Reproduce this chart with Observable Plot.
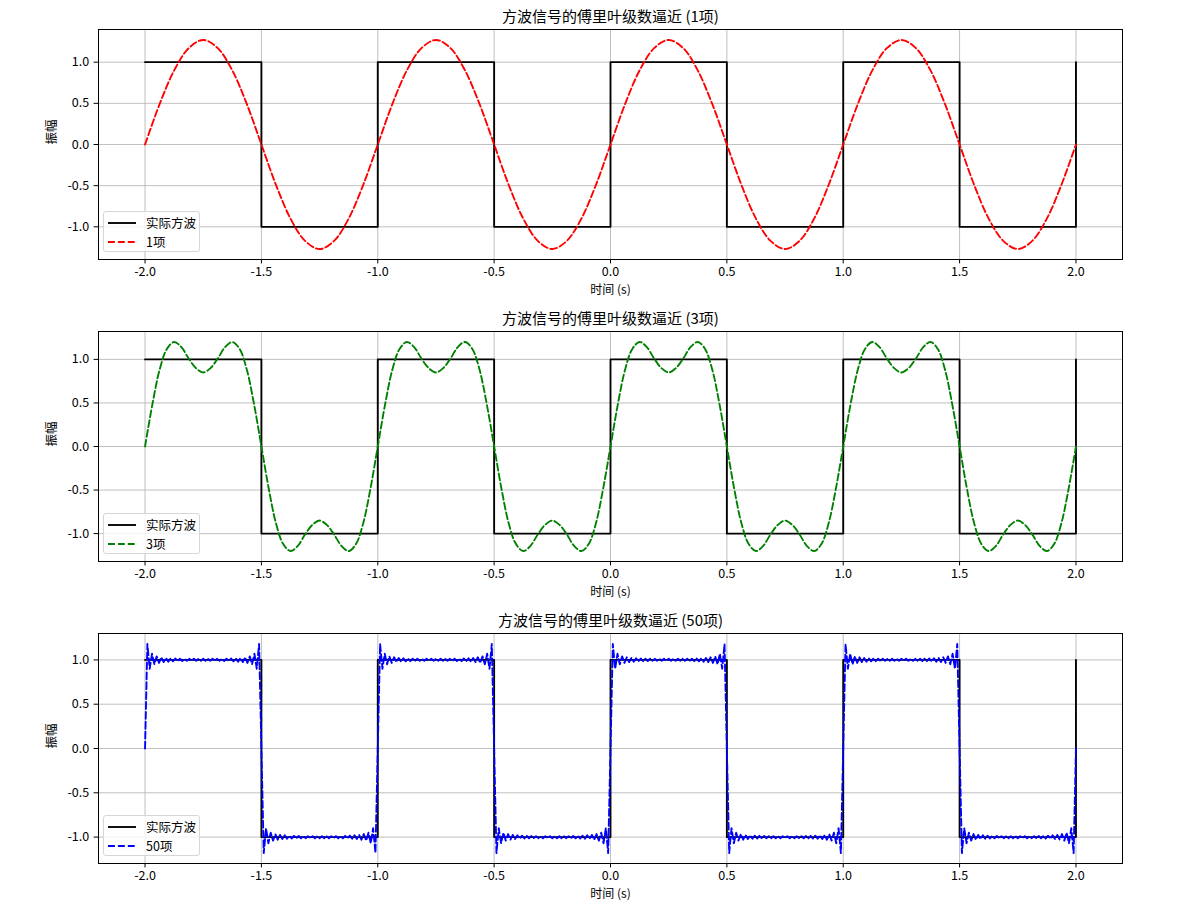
<!DOCTYPE html>
<html>
<head>
<meta charset="utf-8">
<script src="https://cdn.jsdelivr.net/npm/d3@7"></script>
<script src="https://cdn.jsdelivr.net/npm/@observablehq/plot@0.6"></script>
<style>
  body { margin: 0; background: #fff; }
  #wrap { position: relative; width: 1193px; height: 910px; background: #fff; font-family: "Noto Sans CJK SC", sans-serif; }
  .panel { position: absolute; left: 0; }
  .legend { position: absolute; left: 103px; width: 97px; height: 41px; box-sizing: border-box;
            border: 1px solid #d6d6d6; border-radius: 3px; background: rgba(255,255,255,0.8);
            font-size: 12.5px; color: #000; }
  .legend .row { position: absolute; left: 0; height: 16px; width: 100%; }
  .legend svg { position: absolute; left: 3px; top: 0; }
  .legend span { position: absolute; left: 42px; top: 0; line-height: 16px; white-space: nowrap; }
</style>
</head>
<body>
<div id="wrap"></div>
<script>
// ---------- data ----------
const xTicks = [-2.0, -1.5, -1.0, -0.5, 0.0, 0.5, 1.0, 1.5, 2.0];
const yTicks = [-1.0, -0.5, 0.0, 0.5, 1.0];

// square wave breakpoints (time, level)
const squareT = [-2.0, -1.5, -1.0, -0.5, 0.0, 0.5, 1.0, 1.5, 2.0];
const squareY = [1, -1, 1, -1, 1, -1, 1, -1, 1];

// half-period starts and sign of each half period
const halfStarts = [-2.0, -1.5, -1.0, -0.5, 0.0, 0.5, 1.0, 1.5];
const halfSigns  = [1, -1, 1, -1, 1, -1, 1, -1];

// 1 term: shape over one half period (offset from edge, value)
const offsets1 = [0, 0.0625, 0.125, 0.1875, 0.25, 0.3125, 0.375, 0.4375, 0.5];
const approx1  = [0, 0.49, 0.90, 1.17, 1.27, 1.17, 0.90, 0.49, 0];

// 3 terms
const offsets3 = [0, 0.03125, 0.0625, 0.09375, 0.125, 0.15625, 0.1875, 0.21875, 0.25,
                  0.28125, 0.3125, 0.34375, 0.375, 0.40625, 0.4375, 0.46875, 0.5];
const approx3  = [0, 0.48, 0.88, 1.12, 1.20, 1.14, 1.01, 0.90, 0.85,
                  0.90, 1.01, 1.14, 1.20, 1.12, 0.88, 0.48, 0];

// 50 terms (Gibbs ripples)
const offsets50 = [0, 0.01, 0.02, 0.03, 0.04, 0.05, 0.06, 0.07, 0.08, 0.09,
                   0.10, 0.11, 0.12, 0.13, 0.14, 0.15, 0.16, 0.17, 0.18, 0.19,
                   0.20, 0.21, 0.22, 0.23, 0.24, 0.25, 0.26, 0.27, 0.28, 0.29,
                   0.30, 0.31, 0.32, 0.33, 0.34, 0.35, 0.36, 0.37, 0.38, 0.39,
                   0.40, 0.41, 0.42, 0.43, 0.44, 0.45, 0.46, 0.47, 0.48, 0.49, 0.50];
const approx50 = [0, 1.18, 0.90, 1.07, 0.95, 1.04, 0.966, 1.03, 0.975, 1.022,
                  0.98, 1.018, 0.984, 1.016, 0.986, 1.014, 0.988, 1.013, 0.989, 1.012,
                  0.99, 1.012, 0.99, 1.012, 0.99, 1.013, 0.99, 1.012, 0.99, 1.012,
                  0.99, 1.012, 0.989, 1.013, 0.988, 1.014, 0.986, 1.016, 0.984, 1.018,
                  0.98, 1.022, 0.975, 1.03, 0.966, 1.04, 0.95, 1.07, 0.90, 1.18, 0];

const titleText = "方波信号的傅里叶级数逼近";
const xLabel = "时间 (s)";
const yLabel = "振幅";
const squareLabel = "实际方波";

// ---------- build tables ----------
function tile(offsets, values) {
  const pts = [];
  halfStarts.forEach((t0, k) => {
    offsets.forEach((dt, i) => {
      if (i === offsets.length - 1 && k < halfStarts.length - 1) return;
      pts.push({t: t0 + dt, y: halfSigns[k] * values[i]});
    });
  });
  return pts;
}
const squareData = squareT.map((t, i) => ({t, y: squareY[i]}));

const panels = [
  {terms: 1,  data: tile(offsets1, approx1),  color: "#ff0000", curve: "catmull-rom", top: 0},
  {terms: 3,  data: tile(offsets3, approx3),  color: "#008000", curve: "catmull-rom", top: 302},
  {terms: 50, data: tile(offsets50, approx50), color: "#0000ff", curve: "linear", top: 604}
];

function padded(ext) {
  const pad = (ext[1] - ext[0]) * 0.05;
  return [ext[0] - pad, ext[1] + pad];
}

const wrap = document.getElementById("wrap");
const H = 303, MT = 29, MB = 44, ML = 98, MR = 71;

panels.forEach(p => {
  const allY = p.data.map(d => d.y).concat(squareY);
  const yDom = padded(d3.extent(allY));
  const xDom = padded(d3.extent(squareT));
  const fmt = d => d.toFixed(1);
  const chart = Plot.plot({
    width: 1193, height: H,
    marginTop: MT, marginBottom: MB, marginLeft: ML, marginRight: MR,
    style: {fontFamily: '"Noto Sans CJK SC", sans-serif', fontSize: "12.5px", color: "#000", background: "transparent", overflow: "visible"},
    x: {domain: xDom, ticks: xTicks, tickFormat: fmt, tickSize: 4.4, tickPadding: 3.5, label: null},
    y: {domain: yDom, ticks: yTicks, tickFormat: fmt, tickSize: 4.4, tickPadding: 5, label: null},
    marks: [
      Plot.ruleX(xTicks, {x: d => d, stroke: "#b0b0b0", strokeWidth: 0.8}),
      Plot.ruleY(yTicks, {y: d => d, stroke: "#b0b0b0", strokeWidth: 0.8}),
      Plot.line(squareData, {x: "t", y: "y", curve: "step-after", stroke: "#000", strokeWidth: 1.875}),
      Plot.line(p.data, {x: "t", y: "y", curve: p.curve, stroke: p.color, strokeWidth: 1.875, strokeDasharray: "6.9,3"}),
      Plot.frame({stroke: "#000", strokeWidth: 1}),
      Plot.text([`${titleText} (${p.terms}项)`], {text: d => d, frameAnchor: "top", dy: -8, lineAnchor: "bottom", fontSize: 15, fill: "#000"}),
      Plot.text([xLabel], {text: d => d, frameAnchor: "bottom", dy: 30.5, lineAnchor: "middle", fontSize: 12, fill: "#000"}),
      Plot.text([yLabel], {text: d => d, frameAnchor: "left", dx: -47, rotate: -90, fontSize: 12.5, fill: "#000"})
    ]
  });
  const holder = document.createElement("div");
  holder.className = "panel";
  holder.style.top = p.top + "px";
  holder.appendChild(chart);
  wrap.appendChild(holder);

  // legend
  const lg = document.createElement("div");
  lg.className = "legend";
  lg.style.top = (p.top + 211) + "px";
  const rows = [
    {label: squareLabel, color: "#000", dash: null},
    {label: `${p.terms}项`, color: p.color, dash: "6.9,3"}
  ];
  rows.forEach((r, i) => {
    const row = document.createElement("div");
    row.className = "row";
    row.style.top = (3 + i * 18.5) + "px";
    row.innerHTML = `<svg width="32" height="16"><line x1="1" x2="29" y1="8" y2="8" stroke="${r.color}" stroke-width="1.875" ${r.dash ? `stroke-dasharray="${r.dash}"` : ""}/></svg><span>${r.label}</span>`;
    lg.appendChild(row);
  });
  wrap.appendChild(lg);
});
</script>
</body>
</html>
